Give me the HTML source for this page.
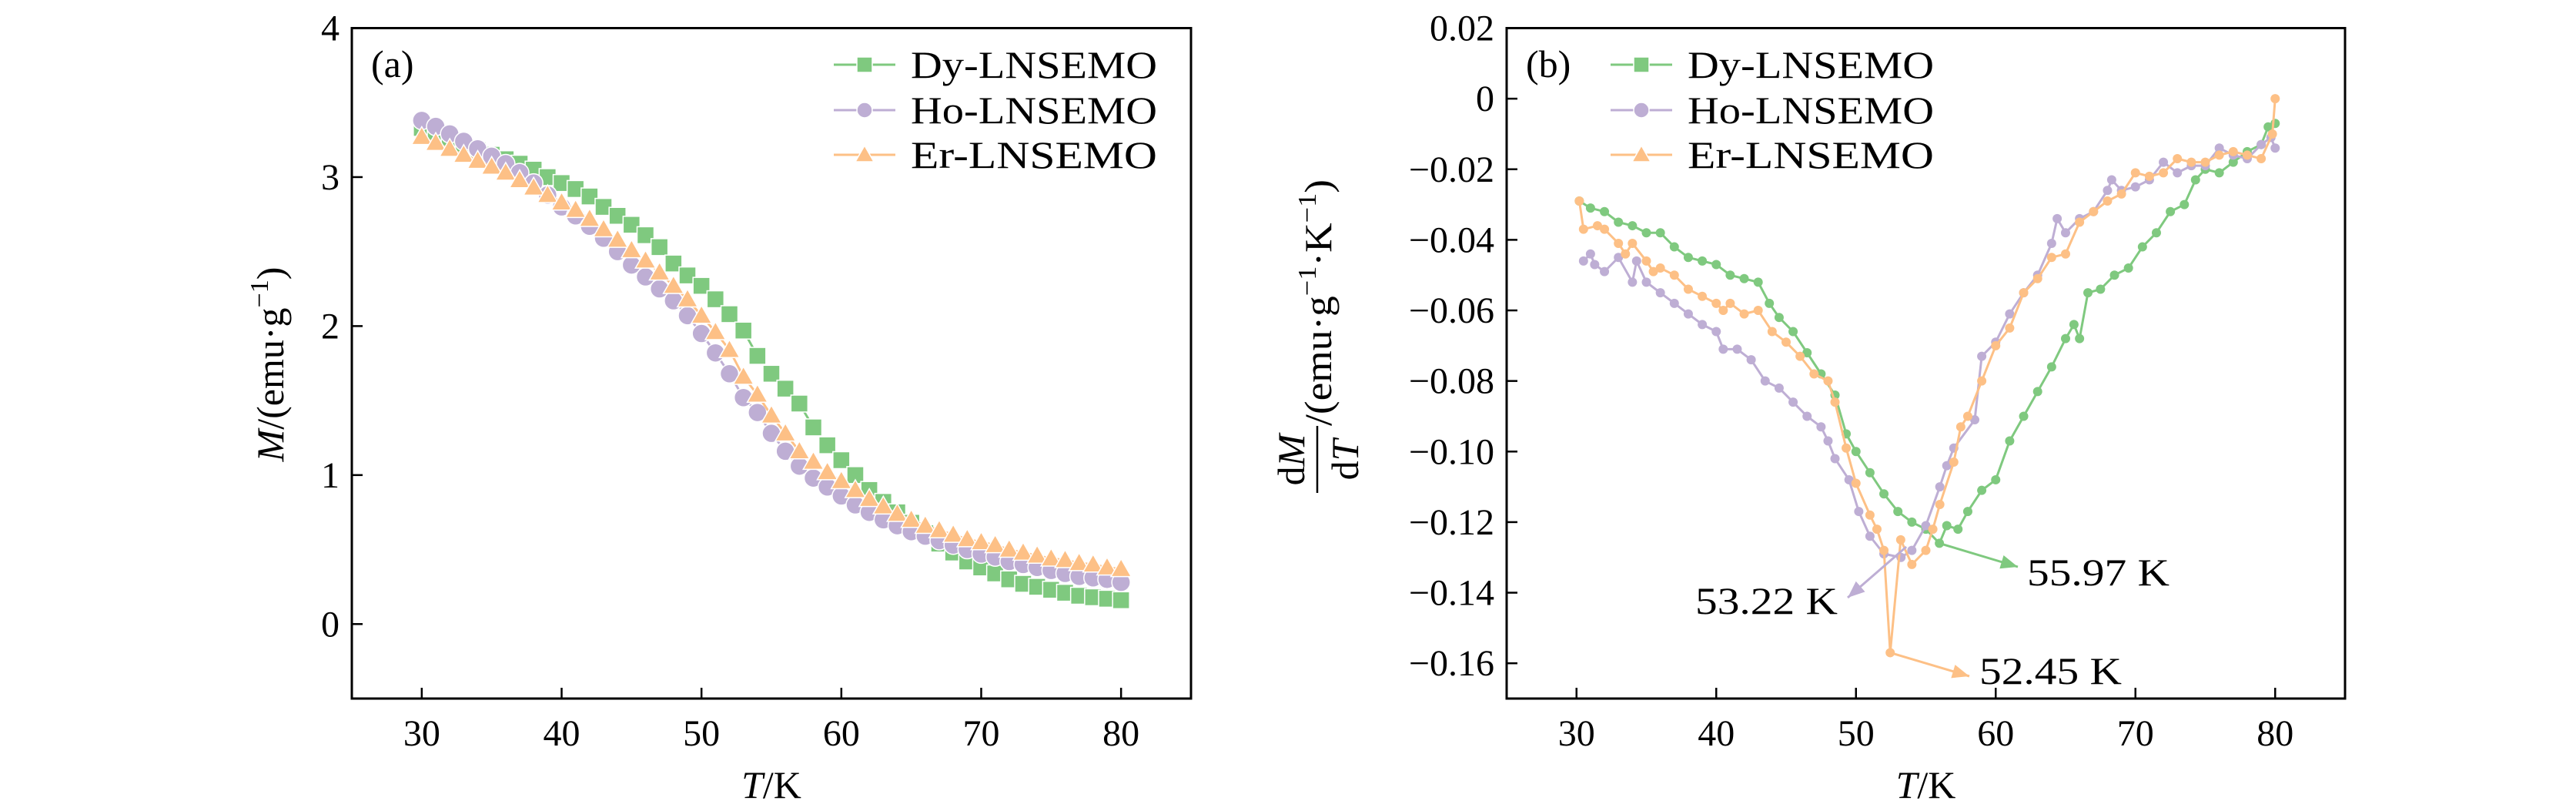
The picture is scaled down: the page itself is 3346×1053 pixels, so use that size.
<!DOCTYPE html>
<html><head><meta charset="utf-8"><style>
body{margin:0;background:#fff}
svg{display:block;font-family:"Liberation Serif",serif}
</style></head><body>
<svg id="chart" width="3346" height="1053" viewBox="0 0 3346 1053" xmlns="http://www.w3.org/2000/svg">
<rect width="3346" height="1053" fill="#fff"/>
<g id="pa"></g>
<g id="pb"></g>
</svg>
<script>
// ---- Panel (a) data ----
const aTemps=[30,31,32,33,34,35,36,37,38,39,40,41,42,43,44,45,46,47,48,49,50,51,52,53,54,55,56,57,58,59,60,61,62,63,64,65,66,67,68,69,70,71,72,73,74,75,76,77,78,79,80];
const aDy=[3.33,3.3,3.26,3.22,3.18,3.15,3.12,3.09,3.05,3.0,2.96,2.92,2.87,2.80,2.74,2.68,2.61,2.53,2.42,2.34,2.27,2.18,2.08,1.97,1.80,1.68,1.58,1.48,1.32,1.20,1.10,1.0,0.90,0.82,0.75,0.68,0.61,0.54,0.48,0.42,0.38,0.34,0.30,0.27,0.25,0.23,0.21,0.19,0.18,0.17,0.16];
const aHo=[3.38,3.34,3.29,3.24,3.19,3.14,3.09,3.03,2.96,2.88,2.80,2.74,2.67,2.59,2.50,2.41,2.33,2.25,2.17,2.07,1.95,1.82,1.68,1.52,1.42,1.28,1.16,1.06,0.98,0.92,0.86,0.80,0.75,0.70,0.66,0.62,0.59,0.56,0.53,0.50,0.47,0.45,0.42,0.40,0.38,0.36,0.34,0.32,0.31,0.30,0.28];
const aEr=[3.27,3.23,3.19,3.15,3.11,3.07,3.03,2.98,2.93,2.88,2.83,2.78,2.72,2.65,2.58,2.51,2.44,2.36,2.27,2.18,2.07,1.96,1.84,1.66,1.54,1.40,1.28,1.16,1.09,1.02,0.96,0.90,0.84,0.79,0.74,0.70,0.66,0.63,0.60,0.57,0.55,0.53,0.50,0.48,0.46,0.44,0.43,0.41,0.40,0.38,0.37];
const aYTicks=[0,1,2,3,4];
const xTicks=[30,40,50,60,70,80];
// ---- Panel (b) data ----
const bDyT=[30.2,31,32,33,34,35,36,37,38,39,40,41,42,43,43.8,44.5,45.5,46.5,47.5,48.5,49.3,50,51,52,53,54,55,55.97,56.5,57.3,58,59,60,61,62,63,64,65,65.6,66,66.6,67.5,68.5,69.5,70.5,71.5,72.5,73.5,74.3,75,76,77,78,79,79.5,80];
const bDyV=[-0.029,-0.031,-0.032,-0.035,-0.036,-0.038,-0.038,-0.042,-0.045,-0.046,-0.047,-0.050,-0.051,-0.052,-0.058,-0.062,-0.066,-0.072,-0.078,-0.084,-0.095,-0.100,-0.106,-0.112,-0.117,-0.120,-0.122,-0.126,-0.121,-0.122,-0.117,-0.111,-0.108,-0.097,-0.090,-0.083,-0.076,-0.068,-0.064,-0.068,-0.055,-0.054,-0.050,-0.048,-0.042,-0.038,-0.032,-0.030,-0.023,-0.020,-0.021,-0.018,-0.015,-0.013,-0.008,-0.007];
const bHoT=[30.5,31,31.3,32,33,34,34.3,35,36,37,38,39,40,40.5,41.5,42.5,43.5,44.5,45.5,46.5,47.5,48,48.5,49.5,50.2,51,52,53.22,54,55,56,56.5,57,58.5,59,60,61,62,63,64,64.4,65,66,67,68,68.3,69,70,71,72,73,74,75,76,77,78,79,79.7,80];
const bHoV=[-0.046,-0.044,-0.047,-0.049,-0.045,-0.052,-0.046,-0.052,-0.055,-0.058,-0.061,-0.064,-0.066,-0.071,-0.071,-0.074,-0.080,-0.082,-0.086,-0.090,-0.093,-0.097,-0.102,-0.108,-0.117,-0.124,-0.129,-0.130,-0.128,-0.121,-0.110,-0.104,-0.099,-0.091,-0.073,-0.069,-0.061,-0.055,-0.050,-0.041,-0.034,-0.038,-0.034,-0.032,-0.026,-0.023,-0.026,-0.025,-0.023,-0.018,-0.021,-0.019,-0.019,-0.014,-0.016,-0.017,-0.013,-0.011,-0.014];
const bErT=[30.2,30.5,31.5,32,33,33.5,34,35,35.5,36,37,38,39,40,40.5,41,42,43,44,45,46,47,48,48.5,49.3,50,51,51.5,52,52.45,53.2,54,55,55.5,56,57,57.5,58,59,60,61,62,63,64,65,66,67,68,69,70,71,72,73,74,75,76,77,78,79,79.8,80];
const bErV=[-0.029,-0.037,-0.036,-0.037,-0.041,-0.044,-0.041,-0.046,-0.049,-0.048,-0.050,-0.054,-0.056,-0.058,-0.060,-0.058,-0.061,-0.060,-0.066,-0.069,-0.073,-0.078,-0.080,-0.086,-0.099,-0.109,-0.118,-0.122,-0.128,-0.157,-0.125,-0.132,-0.128,-0.122,-0.115,-0.103,-0.093,-0.090,-0.080,-0.070,-0.065,-0.055,-0.051,-0.045,-0.044,-0.035,-0.032,-0.029,-0.027,-0.021,-0.022,-0.021,-0.017,-0.018,-0.018,-0.016,-0.015,-0.016,-0.017,-0.010,0.000];
const bYTicks=[0.02,0,-0.02,-0.04,-0.06,-0.08,-0.10,-0.12,-0.14,-0.16];
const bYLabels=["0.02","0","\u22120.02","\u22120.04","\u22120.06","\u22120.08","\u22120.10","\u22120.12","\u22120.14","\u22120.16"];

const GREEN="#7fc97f",PURPLE="#beaed4",ORANGE="#fdc086";
const NS="http://www.w3.org/2000/svg";
function mk(tag,parent,at,txt){const e=document.createElementNS(NS,tag);for(const k in at)e.setAttribute(k,at[k]);if(txt!==undefined)e.textContent=txt;parent.appendChild(e);return e;}

// axis functions
const axA={x0:457,x1:1547,y0:36.5,y1:907,xmin:25,xmax:85,ymin:-0.5,ymax:4};
const axB={x0:1957,x1:3046,y0:36.5,y1:907,xmin:25,xmax:85,ymin:-0.17,ymax:0.02};
function sx(ax,v){return ax.x0+(v-ax.xmin)/(ax.xmax-ax.xmin)*(ax.x1-ax.x0);}
function sy(ax,v){return ax.y1-(v-ax.ymin)/(ax.ymax-ax.ymin)*(ax.y1-ax.y0);}

function frame(g,ax,yt,yl){
  const r=mk('rect',g,{x:ax.x0,y:ax.y0,width:ax.x1-ax.x0,height:ax.y1-ax.y0,fill:'none',stroke:'#000','stroke-width':3});
  
  xTicks.forEach(t=>{const x=sx(ax,t);
    const l=mk('line',g,{x1:x,x2:x,y1:ax.y1,y2:ax.y1-14,stroke:'#000','stroke-width':2.5});
    
    const tx=mk('text',g,{x:x,y:968,'font-size':48,'text-anchor':'middle'},String(t));
    });
  yt.forEach((t,i)=>{const y=sy(ax,t);
    const l=mk('line',g,{x1:ax.x0,x2:ax.x0+14,y1:y,y2:y,stroke:'#000','stroke-width':2.5});
    
    const tx=mk('text',g,{x:ax.x0-16,y:y+16,'font-size':48,'text-anchor':'end'},yl[i]);
    });
  const xt=mk('text',g,{x:(ax.x0+ax.x1)/2,y:1036,'font-size':50,'text-anchor':'middle'});
  
  mk('tspan',xt,{'font-style':'italic'},'T');mk('tspan',xt,{},'/K');
}
function marker(g,type,x,y,col,s){
  let m;
  if(type==='sq') m=mk('rect',g,{x:x-s/2,y:y-s/2,width:s,height:s,fill:col,stroke:'#fff','stroke-width':1.5});
  else if(type==='ci') m=mk('circle',g,{cx:x,cy:y,r:s/2,fill:col,stroke:'#fff','stroke-width':1.5});
  else if(type==='tr') m=mk('polygon',g,{points:`${x},${y-s*0.6} ${x-s*0.6},${y+s*0.45} ${x+s*0.6},${y+s*0.45}`,fill:col,stroke:'#fff','stroke-width':1.5});
  else m=mk('circle',g,{cx:x,cy:y,r:s/2,fill:col});
  
}
function series(g,ax,xs,ys,col,type,s,name){
  const sg=mk('g',g,{});
  
  const pts=xs.map((t,i)=>sx(ax,t)+','+sy(ax,ys[i])).join(' ');
  const pl=mk('polyline',sg,{points:pts,fill:'none',stroke:col,'stroke-width':3});
  
  xs.forEach((t,i)=>marker(sg,type,sx(ax,t),sy(ax,ys[i]),col,s));
}
function legend(g,lx,tx,labels,cols,types,s){
  const rows=[84,143,201];
  labels.forEach((lab,i)=>{
    const lg=mk('g',g,{});
    
    mk('line',lg,{x1:lx,x2:lx+80,y1:rows[i],y2:rows[i],stroke:cols[i],'stroke-width':3});
    marker(lg,types[i],lx+40,rows[i],cols[i],s);
    const t=mk('text',lg,{x:tx,y:rows[i]+17,'font-size':50,textLength:320,lengthAdjust:'spacingAndGlyphs'},lab);
    
  });
}

// ---- Panel a ----
const pa=document.getElementById('pa');
frame(pa,axA,aYTicks,aYTicks.map(String));
series(pa,axA,aTemps,aDy,GREEN,'sq',22,'series-dy');
series(pa,axA,aTemps,aHo,PURPLE,'ci',24,'series-ho');
series(pa,axA,aTemps,aEr,ORANGE,'tr',22,'series-er');
legend(pa,1083,1183,['Dy-LNSEMO','Ho-LNSEMO','Er-LNSEMO'],[GREEN,PURPLE,ORANGE],['sq','ci','tr'],20);
let t=mk('text',pa,{x:482,y:100,'font-size':50},'(a)');

t=mk('text',pa,{transform:'translate(368,473) rotate(-90)','font-size':50,'text-anchor':'middle'});

mk('tspan',t,{'font-style':'italic'},'M');mk('tspan',t,{},'/(emu·g');mk('tspan',t,{dy:-20,'font-size':34},'\u22121');mk('tspan',t,{dy:20},')');

// ---- Panel b ----
const pb=document.getElementById('pb');
frame(pb,axB,bYTicks,bYLabels);
series(pb,axB,bDyT,bDyV,GREEN,'dot',12,'series-dy');
series(pb,axB,bHoT,bHoV,PURPLE,'dot',12,'series-ho');
series(pb,axB,bErT,bErV,ORANGE,'dot',12,'series-er');
legend(pb,2092,2192,['Dy-LNSEMO','Ho-LNSEMO','Er-LNSEMO'],[GREEN,PURPLE,ORANGE],['sq','ci','tr'],20);
t=mk('text',pb,{x:1982,y:100,'font-size':50},'(b)');

// y title fraction
const yg=mk('g',pb,{});

mk('line',yg,{x1:1711,x2:1711,y1:553,y2:640,stroke:'#000','stroke-width':2.5});
let f=mk('text',yg,{transform:'translate(1694,597) rotate(-90)','font-size':50,'text-anchor':'middle'});
mk('tspan',f,{},'d');mk('tspan',f,{'font-style':'italic'},'M');
f=mk('text',yg,{transform:'translate(1764,597) rotate(-90)','font-size':50,'text-anchor':'middle'});
mk('tspan',f,{},'d');mk('tspan',f,{'font-style':'italic'},'T');
f=mk('text',yg,{transform:'translate(1729,553) rotate(-90)','font-size':50,textLength:320,lengthAdjust:'spacingAndGlyphs'});
mk('tspan',f,{},'/(emu·g');mk('tspan',f,{dy:-20,'font-size':34},'\u22121');mk('tspan',f,{dy:20},'·K');mk('tspan',f,{dy:-20,'font-size':34},'\u22121');mk('tspan',f,{dy:20},')');
// annotations
const ann=[
  {T:55.97,V:-0.126,tx:2621,ty:736,col:GREEN,lab:'55.97 K',lx:2633,ly:760,anchor:'start'},
  {T:53.6,V:-0.127,tx:2400,ty:776,col:PURPLE,lab:'53.22 K',lx:2387,ly:797,anchor:'end'},
  {T:52.45,V:-0.157,tx:2558,ty:878,col:ORANGE,lab:'52.45 K',lx:2571,ly:888,anchor:'start'}];
ann.forEach(a=>{
  const ag=mk('g',pb,{});
  
  const x0=sx(axB,a.T),y0=sy(axB,a.V);
  mk('line',ag,{x1:x0,y1:y0,x2:a.tx,y2:a.ty,stroke:a.col,'stroke-width':3});
  const ang=Math.atan2(a.ty-y0,a.tx-x0),L=22,W=9;
  const bx=a.tx-L*Math.cos(ang),by=a.ty-L*Math.sin(ang);
  mk('polygon',ag,{points:`${a.tx},${a.ty} ${bx-W*Math.sin(ang)},${by+W*Math.cos(ang)} ${bx+W*Math.sin(ang)},${by-W*Math.cos(ang)}`,fill:a.col});
  mk('text',ag,{x:a.lx,y:a.ly,'font-size':50,'text-anchor':a.anchor,textLength:185,lengthAdjust:'spacingAndGlyphs'},a.lab);
});
</script>
</body></html>
